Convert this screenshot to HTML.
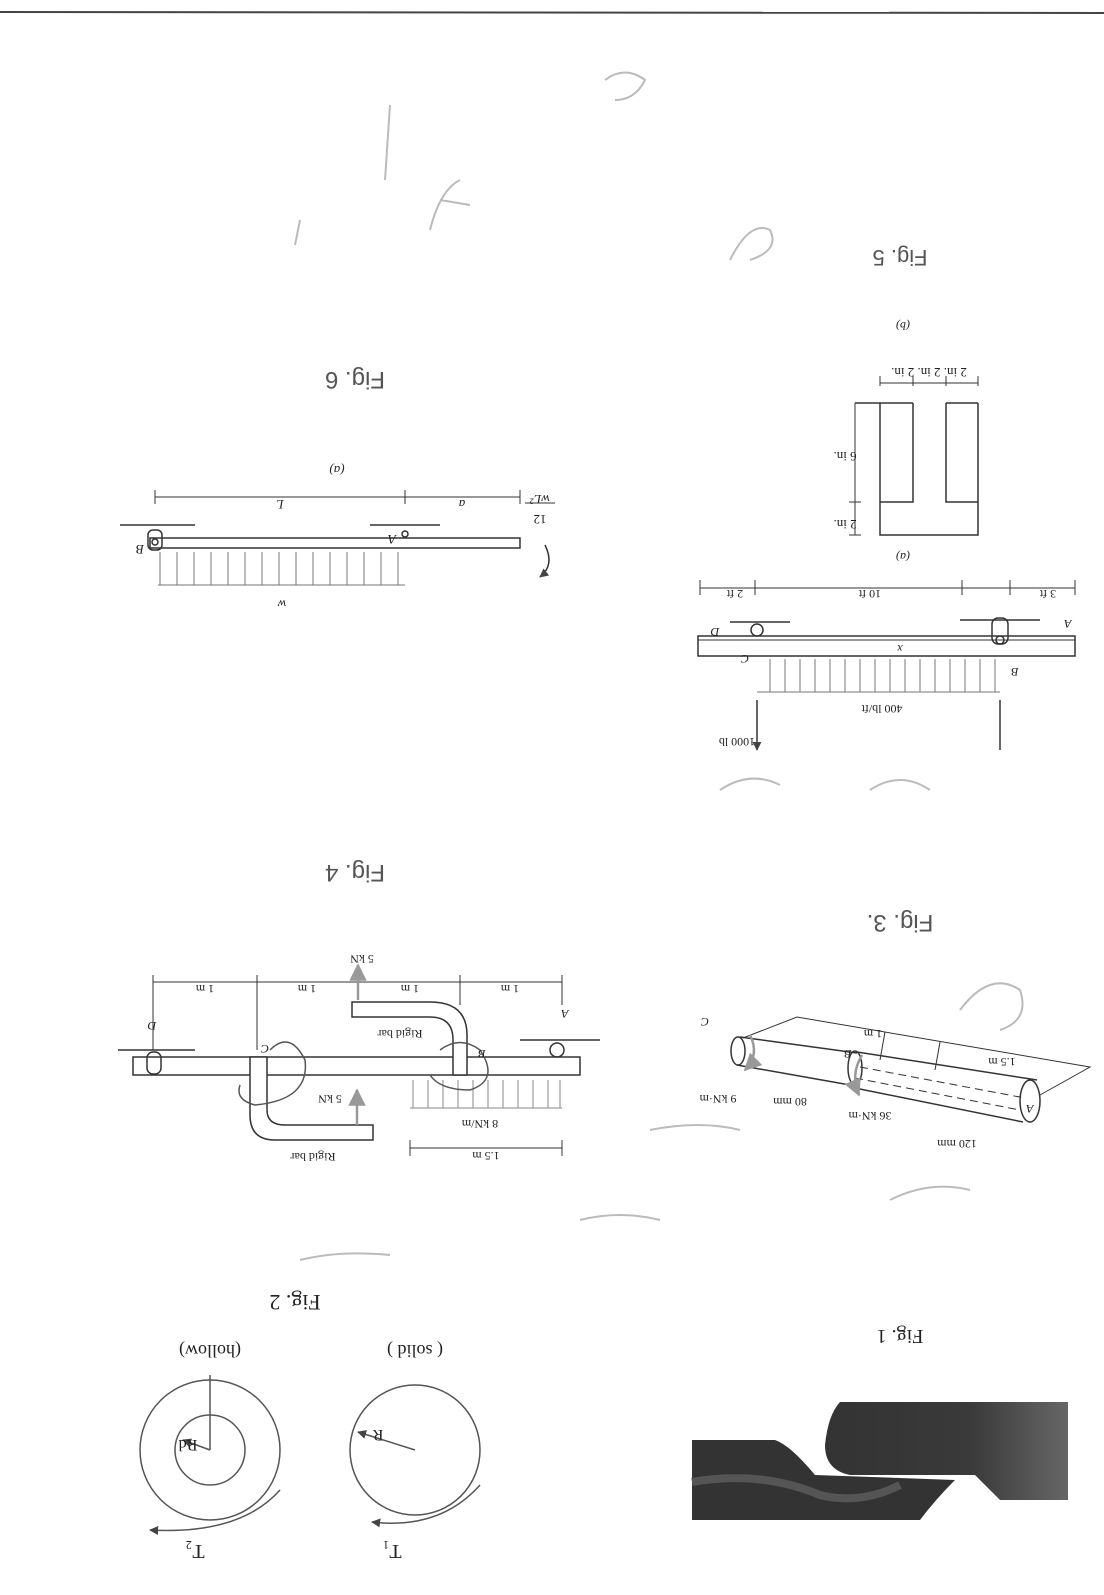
<!DOCTYPE html>
<html><head><meta charset="utf-8"><style>
html,body{margin:0;padding:0;background:#fff}
svg{display:block}
text{font-family:"Liberation Serif",serif;fill:#222}
.h{font-family:"Liberation Sans",sans-serif;fill:#555}
</style></head><body>
<svg width="1104" height="1595" viewBox="0 0 1104 1595" xmlns="http://www.w3.org/2000/svg">
<defs>
<marker id="ah" viewBox="0 0 10 10" refX="9" refY="5" markerWidth="6" markerHeight="6" orient="auto"><path d="M0,0L10,5L0,10z" fill="#444"/></marker>
<marker id="ag" viewBox="0 0 10 10" refX="9" refY="5" markerWidth="7" markerHeight="7" orient="auto"><path d="M0,0L10,5L0,10z" fill="#999"/></marker>
<linearGradient id="gr" x1="0" x2="1" y1="0" y2="0"><stop offset="0" stop-color="#333"/><stop offset="0.6" stop-color="#3a3a3a"/><stop offset="1" stop-color="#666"/></linearGradient>
</defs>
<rect width="1104" height="1595" fill="#fff"/>
<line x1="0" y1="12" x2="1104" y2="13" stroke="#444" stroke-width="2"/>

<g stroke="#bbb" stroke-width="2" fill="none">
<path d="M390 105 L385 180"/><path d="M605 80 q20 -15 40 0 q-10 20 -30 20"/>
<path d="M430 230 q10 -40 30 -50 M440 200 l30 5"/><path d="M730 260 q20 -40 40 -30 q10 20 -20 30"/>
<path d="M300 220 l-5 25"/><path d="M720 790 q30 -20 60 -5"/><path d="M870 790 q30 -20 60 0"/>
<path d="M960 1010 q30 -40 60 -20 q10 30 -20 40"/><path d="M580 1220 q40 -10 80 0"/>
<path d="M890 1200 q40 -20 80 -10"/><path d="M650 1130 q50 -10 90 0"/><path d="M300 1260 q40 -10 90 -5"/>
</g>

<!-- FIG 5 -->
<g stroke="#333" fill="none" stroke-width="1.5">
<rect x="698" y="636" width="377" height="20"/>
<line x1="698" y1="640" x2="1075" y2="640" stroke-width="1"/>
<rect x="992" y="618" width="16" height="26" rx="6"/>
<circle cx="1000" cy="640" r="4"/>
<line x1="960" y1="620" x2="1040" y2="620"/>
<circle cx="757" cy="630" r="6"/>
<line x1="730" y1="622" x2="790" y2="622"/>
<g stroke="#777" stroke-width="1">
<line x1="757" y1="692" x2="1000" y2="692"/>
<path d="M770 692v-33M785 692v-33M800 692v-33M815 692v-33M830 692v-33M845 692v-33M860 692v-33M875 692v-33M890 692v-33M905 692v-33M920 692v-33M935 692v-33M950 692v-33M965 692v-33M980 692v-33M995 692v-33"/>
</g>
<line x1="757" y1="700" x2="757" y2="750" marker-end="url(#ah)"/>
<line x1="1000" y1="700" x2="1000" y2="750"/>
<line x1="700" y1="588" x2="1075" y2="588" stroke-width="1"/>
<path d="M700 580v15M755 580v15M962 580v15M1010 580v15M1075 580v15" stroke-width="1"/>
<!-- T section -->
<path d="M880 403 V535 H978 V403 M880 502 H913 V403 M978 502 H946 V403 M855 403 H913 M946 403 H978"/>
<path d="M880 376v10M913 376v10M946 376v10M978 376v10" stroke-width="1"/>
<line x1="880" y1="383" x2="978" y2="383" stroke-width="1"/>
<line x1="855" y1="403" x2="855" y2="535" stroke-width="1"/>
<path d="M849 502h12M849 535h12" stroke-width="1"/>
</g>
<g font-size="12">
<text transform="translate(882,705) rotate(180)" text-anchor="middle">400 lb/ft</text>
<text transform="translate(737,738) rotate(180)" text-anchor="middle">1000 lb</text>
<text transform="translate(735,590) rotate(180)" text-anchor="middle">2 ft</text>
<text transform="translate(870,590) rotate(180)" text-anchor="middle">10 ft</text>
<text transform="translate(1048,590) rotate(180)" text-anchor="middle">3 ft</text>
<text transform="translate(745,655) rotate(180)" text-anchor="middle" font-style="italic">C</text>
<text transform="translate(715,628) rotate(180)" text-anchor="middle" font-style="italic">D</text>
<text transform="translate(1015,668) rotate(180)" text-anchor="middle" font-style="italic">B</text>
<text transform="translate(1068,620) rotate(180)" text-anchor="middle" font-style="italic">A</text>
<text transform="translate(900,645) rotate(180)" text-anchor="middle" font-style="italic">x</text>
<text transform="translate(903,553) rotate(180)" text-anchor="middle" font-style="italic">(a)</text>
<text transform="translate(929,368) rotate(180)" text-anchor="middle" font-size="13">2 in. 2 in. 2 in.</text>
<text transform="translate(845,452) rotate(180)" text-anchor="middle" font-size="13">6 in.</text>
<text transform="translate(845,520) rotate(180)" text-anchor="middle" font-size="13">2 in.</text>
<text transform="translate(903,322) rotate(180)" text-anchor="middle" font-style="italic">(b)</text>
</g>
<text class="h" transform="translate(900,250) rotate(180)" text-anchor="middle" font-size="22">Fig. 5</text>

<!-- FIG 6 -->
<g stroke="#333" fill="none" stroke-width="1.5">
<rect x="150" y="538" width="370" height="10"/>
<rect x="148" y="530" width="14" height="20" rx="5"/>
<circle cx="155" cy="542" r="3"/>
<line x1="120" y1="525" x2="195" y2="525"/>
<circle cx="405" cy="534" r="3"/>
<line x1="370" y1="525" x2="440" y2="525"/>
<g stroke="#777" stroke-width="1">
<line x1="158" y1="585" x2="405" y2="585"/>
<path d="M160 585v-33M177 585v-33M194 585v-33M211 585v-33M228 585v-33M245 585v-33M262 585v-33M279 585v-33M296 585v-33M313 585v-33M330 585v-33M347 585v-33M364 585v-33M381 585v-33M398 585v-33"/>
</g>
<line x1="155" y1="497" x2="520" y2="497" stroke-width="1"/>
<path d="M155 490v14M405 490v14M520 490v14" stroke-width="1"/>
<path d="M545 545 q10 20 -5 32" marker-end="url(#ah)"/>
</g>
<g font-size="13">
<text transform="translate(282,600) rotate(180)" text-anchor="middle" font-style="italic">w</text>
<text transform="translate(280,500) rotate(180)" text-anchor="middle" font-style="italic">L</text>
<text transform="translate(462,500) rotate(180)" text-anchor="middle" font-style="italic">a</text>
<text transform="translate(140,545) rotate(180)" text-anchor="middle" font-style="italic">B</text>
<text transform="translate(392,535) rotate(180)" text-anchor="middle" font-style="italic">A</text>
<text transform="translate(540,495) rotate(180)" text-anchor="middle" font-style="italic">wL²</text>
<line x1="525" y1="503" x2="555" y2="503" stroke="#333"/>
<text transform="translate(540,515) rotate(180)" text-anchor="middle">12</text>
<text transform="translate(337,466) rotate(180)" text-anchor="middle" font-style="italic">(a)</text>
</g>
<text class="h" transform="translate(355,372) rotate(180)" text-anchor="middle" font-size="24">Fig. 6</text>

<!-- FIG 4 -->
<g stroke="#333" fill="none" stroke-width="1.5">
<rect x="133" y="1057" width="447" height="18"/>
<rect x="147" y="1052" width="14" height="22" rx="6"/>
<line x1="118" y1="1050" x2="195" y2="1050"/>
<circle cx="557" cy="1050" r="7"/>
<line x1="520" y1="1040" x2="600" y2="1040"/>
<path d="M352 1002 H430 Q467 1002 467 1035 V1075 H453 V1040 Q453 1017 430 1017 H352 Z" fill="#fff"/>
<path d="M250 1057 V1115 Q250 1140 275 1140 H373 V1125 H285 Q267 1125 267 1110 V1057 Z" fill="#fff"/>
<line x1="153" y1="982" x2="562" y2="982" stroke-width="1"/>
<path d="M153 975v75M257 975v75M358 975v12M460 975v30M562 975v30" stroke-width="1"/>
<line x1="410" y1="1148" x2="562" y2="1148" stroke-width="1"/>
<path d="M410 1140v16M562 1140v16" stroke-width="1"/>
<g stroke="#888" stroke-width="1">
<line x1="410" y1="1108" x2="562" y2="1108"/>
<path d="M413 1108v-28M428 1108v-28M443 1108v-28M458 1108v-28M473 1108v-28M488 1108v-28M503 1108v-28M518 1108v-28M533 1108v-28M548 1108v-28M560 1108v-28"/>
</g>
<line x1="358" y1="1000" x2="358" y2="965" stroke="#999" stroke-width="2.5" marker-end="url(#ag)"/>
<line x1="357" y1="1125" x2="357" y2="1090" stroke="#999" stroke-width="2.5" marker-end="url(#ag)"/>
<path d="M270 1050 q20 -20 35 10 q5 40 -50 45 q-20 -5 -15 -20" stroke="#555"/>
<path d="M440 1050 q20 -15 40 0 q20 30 -10 40 q-30 0 -40 -15" stroke="#555"/>
</g>
<g font-size="12">
<text transform="translate(205,985) rotate(180)" text-anchor="middle">1 m</text>
<text transform="translate(307,985) rotate(180)" text-anchor="middle">1 m</text>
<text transform="translate(410,985) rotate(180)" text-anchor="middle">1 m</text>
<text transform="translate(510,985) rotate(180)" text-anchor="middle">1 m</text>
<text transform="translate(362,955) rotate(180)" text-anchor="middle">5 kN</text>
<text transform="translate(330,1095) rotate(180)" text-anchor="middle">5 kN</text>
<text transform="translate(480,1120) rotate(180)" text-anchor="middle">8 kN/m</text>
<text transform="translate(486,1152) rotate(180)" text-anchor="middle">1.5 m</text>
<text transform="translate(400,1030) rotate(180)" text-anchor="middle">Rigid bar</text>
<text transform="translate(313,1153) rotate(180)" text-anchor="middle">Rigid bar</text>
<text transform="translate(152,1022) rotate(180)" text-anchor="middle" font-style="italic">D</text>
<text transform="translate(565,1010) rotate(180)" text-anchor="middle" font-style="italic">A</text>
<text transform="translate(265,1045) rotate(180)" text-anchor="middle" font-style="italic">C</text>
<text transform="translate(482,1050) rotate(180)" text-anchor="middle" font-style="italic">B</text>
</g>
<text class="h" transform="translate(355,865) rotate(180)" text-anchor="middle" font-size="24">Fig. 4</text>

<!-- FIG 3 -->
<g stroke="#333" fill="none" stroke-width="1.5">
<path d="M857 1052 L1037 1080 M850 1087 L1023 1122"/>
<ellipse cx="1030" cy="1101" rx="10" ry="21"/>
<path d="M860 1067 L1025 1098 M855 1078 L1020 1110" stroke-dasharray="8 5" stroke-width="1"/>
<path d="M740 1037 L857 1053 M737 1065 L850 1085"/>
<ellipse cx="855" cy="1068" rx="7" ry="17"/>
<ellipse cx="738" cy="1051" rx="7" ry="14"/>
<path d="M743 1038 L797 1017 L1090 1067 L1040 1095" stroke-width="1"/>
<path d="M885 1032 L880 1060 M940 1042 L935 1070" stroke-width="1"/>
<path d="M750 1035 q10 20 -5 35" stroke="#999" stroke-width="2.5" marker-end="url(#ag)"/>
<path d="M862 1055 q-12 20 -3 40" stroke="#999" stroke-width="2.5" marker-end="url(#ag)"/>
</g>
<g font-size="12">
<text transform="translate(705,1018) rotate(180)" text-anchor="middle" font-style="italic">C</text>
<text transform="translate(848,1050) rotate(180)" text-anchor="middle" font-style="italic">B</text>
<text transform="translate(873,1030) rotate(180)" text-anchor="middle">1 m</text>
<text transform="translate(1002,1058) rotate(180)" text-anchor="middle">1.5 m</text>
<text transform="translate(718,1095) rotate(180)" text-anchor="middle">9 kN·m</text>
<text transform="translate(790,1098) rotate(180)" text-anchor="middle">80 mm</text>
<text transform="translate(870,1112) rotate(180)" text-anchor="middle">36 kN·m</text>
<text transform="translate(957,1140) rotate(180)" text-anchor="middle">120 mm</text>
<text transform="translate(1030,1105) rotate(180)" text-anchor="middle" font-style="italic">A</text>
</g>
<text class="h" transform="translate(900,915) rotate(180)" text-anchor="middle" font-size="24">Fig. 3.</text>

<!-- FIG 2 -->
<g stroke="#555" fill="none" stroke-width="1.5">
<circle cx="210" cy="1450" r="70"/>
<circle cx="210" cy="1450" r="35"/>
<line x1="210" y1="1450" x2="210" y2="1375"/>
<line x1="210" y1="1450" x2="183" y2="1440" marker-end="url(#ah)"/>
<circle cx="415" cy="1450" r="65"/>
<line x1="415" y1="1450" x2="358" y2="1432" marker-end="url(#ah)"/>
<path d="M280 1490 Q240 1535 150 1530" marker-end="url(#ah)"/>
<path d="M480 1485 Q440 1530 372 1522" marker-end="url(#ah)"/>
</g>
<g class="h" font-size="16">
<text transform="translate(188,1440) rotate(180)" text-anchor="middle">Rd</text>
<text transform="translate(378,1430) rotate(180)" text-anchor="middle">R</text>
<text transform="translate(195,1545) rotate(180)" text-anchor="middle" font-size="20">T₂</text>
<text transform="translate(392,1545) rotate(180)" text-anchor="middle" font-size="20">T₁</text>
<text transform="translate(210,1345) rotate(180)" text-anchor="middle" font-size="18">(hollow)</text>
<text transform="translate(415,1345) rotate(180)" text-anchor="middle" font-size="18">( solid )</text>
<text transform="translate(295,1295) rotate(180)" text-anchor="middle" font-size="22">Fig. 2</text>
<text transform="translate(900,1330) rotate(180)" text-anchor="middle" font-size="20">Fig. 1</text>
</g>

<!-- FIG 1 -->
<path d="M692 1440 H775 Q790 1445 815 1475 L955 1480 Q935 1500 920 1520 H692 Z" fill="#333"/>
<path d="M692 1482 Q760 1470 820 1495 Q860 1505 900 1485" fill="none" stroke="#555" stroke-width="8"/>
<path d="M840 1402 H1068 V1500 H1000 L975 1475 H850 Q825 1470 825 1445 Q828 1415 840 1402 Z" fill="url(#gr)"/>
</svg>
</body></html>
